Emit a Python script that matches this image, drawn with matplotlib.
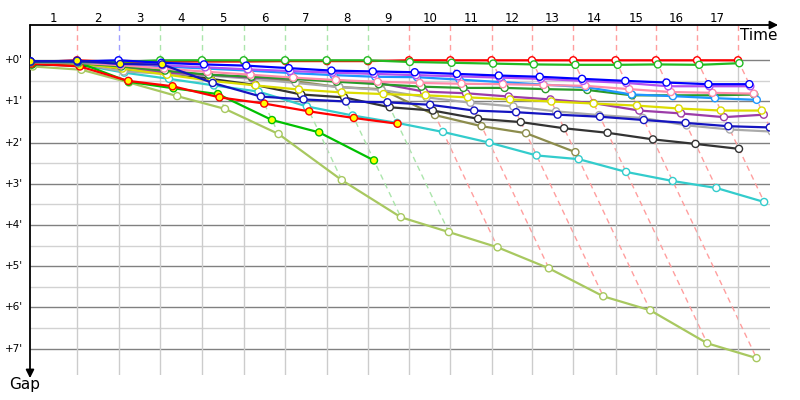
import numpy as np
import matplotlib.pyplot as plt
from matplotlib.colors import to_rgb

# leader lap times (minutes), lap 1 .. 17
lap_times = [2.41, 2.13, 2.14, 2.14, 2.14, 2.12, 2.13, 2.10, 2.13,
             2.12, 2.11, 2.07, 2.12, 2.17, 2.07, 2.11, 2.10]
lap_labels = [str(i) for i in range(1, 18)]
gap_labels = ["+%d'" % i for i in range(8)]

# gap to leader (minutes) at the end of each lap, starting with lap 0
red = [0.05, 0.0, 0.04, 0.03, 0.03, 0.03, 0.02, 0.02, 0.02, 0, 0, 0, 0, 0, 0, 0, 0, 0]
green = [0.04, 0.05, 0.04, 0, 0, 0, 0, 0, 0, 0.04, 0.06, 0.08, 0.10, 0.11, 0.11, 0.10, 0.11, 0.07]
blue = [0.02, 0.03, 0, 0.06, 0.10, 0.13, 0.19, 0.25, 0.27, 0.29, 0.33, 0.37, 0.40, 0.45, 0.50, 0.54, 0.58, 0.58]
navy = [0.03, 0.01, 0.09, 0.10, 0.55, 0.88, 0.95, 1.00, 1.02, 1.08, 1.22, 1.26, 1.32, 1.37, 1.45, 1.52, 1.60, 1.63]
violet = [0.04, 0.05, 0.08, 0.12, 0.17, 0.22, 0.26, 0.30, 0.33, 0.36, 0.39, 0.42, 0.45, 0.50, 0.55, 0.63, 0.63, 0.63]
pink = [0.05, 0.06, 0.12, 0.20, 0.28, 0.35, 0.42, 0.48, 0.52, 0.55, 0.57, 0.58, 0.60, 0.62, 0.70, 0.77, 0.79, 0.81]
sky = [0.03, 0.04, 0.08, 0.15, 0.20, 0.25, 0.31, 0.36, 0.40, 0.41, 0.47, 0.53, 0.59, 0.65, 0.83, 0.87, 0.92, 0.96]
green_mid = [0.05, 0.07, 0.15, 0.25, 0.35, 0.40, 0.45, 0.52, 0.58, 0.64, 0.67, 0.67, 0.70, 0.72, 0.85, 0.85, 0.85, 0.83]
yellow = [0.06, 0.08, 0.20, 0.35, 0.50, 0.61, 0.71, 0.78, 0.82, 0.85, 0.90, 0.95, 1.00, 1.05, 1.10, 1.17, 1.22, 1.22]
purple = [0.06, 0.07, 0.18, 0.30, 0.35, 0.42, 0.45, 0.49, 0.55, 0.76, 0.80, 0.88, 0.95, 1.04, 1.22, 1.29, 1.38, 1.32]
gray = [0.05, 0.08, 0.27, 0.33, 0.37, 0.45, 0.55, 0.65, 0.72, 0.90, 1.03, 1.12, 1.24, 1.33, 1.40, 1.58, 1.68, 1.73]
olive = [0.06, 0.10, 0.25, 0.30, 0.37, 0.41, 0.51, 0.65, 0.70, 1.33, 1.60, 1.77, 2.23]
black = [0.10, 0.13, 0.20, 0.30, 0.45, 0.60, 0.83, 0.90, 1.14, 1.22, 1.42, 1.50, 1.65, 1.76, 1.92, 2.03, 2.15]
turquoise = [0.07, 0.10, 0.30, 0.45, 0.61, 0.76, 1.12, 1.34, 1.52, 1.74, 2.00, 2.31, 2.40, 2.71, 2.93, 3.10, 3.44]
red2 = [0.08, 0.15, 0.50, 0.63, 0.90, 1.05, 1.24, 1.40, 1.54]
green2 = [0.10, 0.05, 0.52, 0.68, 0.82, 1.45, 1.75, 2.43]
lime = [0.15, 0.23, 0.54, 0.87, 1.18, 1.79, 2.91, 3.81, 4.17, 4.54, 5.05, 5.73, 6.07, 6.87, 7.23]

# laps on which a marker is filled yellow
yellow_navy = [0, 1, 2, 3]
yellow_all = list(range(18))

# drawn in this order, last on top
drivers = [
    (lime, '#a8c860', []),
    (turquoise, '#33cccc', []),
    (olive, '#8c8c4c', []),
    (black, '#333333', []),
    (gray, '#aaaaaa', []),
    (purple, '#9c3ca8', []),
    (yellow, '#dcdc00', []),
    (green2, '#00c000', yellow_all),
    (red2, '#ff0000', yellow_all),
    (green_mid, '#2a9a2a', []),
    (sky, '#1e96ff', []),
    (pink, '#ff8caa', []),
    (violet, '#b450f0', []),
    (red, '#ff0000', []),
    (green, '#22bb22', []),
    (blue, '#0000ff', []),
    (navy, '#1414c0', yellow_navy),
]

leader_t = np.concatenate([[0], np.cumsum(lap_times)])
x_max = 37.95
y_top, y_bot = -0.857, 7.64


def light(c, f=0.62):
    r, g, b = to_rgb(c)
    return (r + (1 - r) * f, g + (1 - g) * f, b + (1 - b) * f)


fig = plt.figure(figsize=(8, 4), dpi=100)
ax = fig.add_axes([30 / 800, 25 / 400, 740 / 800, 350 / 400])
ax.set_xlim(0, x_max)
ax.set_ylim(y_bot, y_top)
ax.axis('off')

# horizontal grid
for i in range(8):
    ax.plot([0, x_max], [i, i], color='#808080', lw=1.0, zorder=1)
    if i < 7:
        ax.plot([0, x_max], [i + 0.5, i + 0.5], color='#d2d2d2', lw=1.0, zorder=1)

# vertical grid + lap lines
for k in range(1, len(leader_t)):
    t = leader_t[k]
    ax.plot([t, t], [0, y_bot], color='#cccccc', lw=1.0, zorder=1)
    on_lap = [d for d in drivers if len(d[0]) > k]
    lead = min(on_lap, key=lambda d: d[0][k])
    maxgap = max(d[0][k] for d in on_lap)
    col = light(lead[1])
    ax.plot([t, t], [y_top, 0], color=col, lw=1.0, ls=(0, (4, 3)), zorder=1)
    ax.plot([t, t + maxgap], [0, maxgap], color=col, lw=1.0, ls=(0, (4, 3)), zorder=1)

# drivers
z = 3
for gaps, col, yl in drivers:
    g = np.array(gaps)
    x = leader_t[:len(g)] + g
    fills = ['#ffff00' if i in yl else 'white' for i in range(len(g))]
    ax.plot(x, g, color=col, lw=1.6, zorder=z)
    ax.scatter(x, g, s=26, facecolors=fills, edgecolors=col, linewidths=1.0, zorder=z + 0.5)
    z += 1

# axes arrows
ax.annotate('', xy=(1.011, 1), xytext=(0, 1), xycoords='axes fraction',
            arrowprops=dict(arrowstyle='-|>', color='black', lw=1.3,
                            mutation_scale=12, shrinkA=0, shrinkB=0))
ax.annotate('', xy=(0, -0.009), xytext=(0, 1), xycoords='axes fraction',
            arrowprops=dict(arrowstyle='-|>', color='black', lw=1.3,
                            mutation_scale=12, shrinkA=0, shrinkB=0))

for k, lab in enumerate(lap_labels):
    ax.text((leader_t[k] + leader_t[k + 1]) / 2, 1.02, lab, transform=ax.get_xaxis_transform(),
            ha='center', va='center', fontsize=8.5)
for i, lab in enumerate(gap_labels):
    ax.text(-0.022, i, lab, transform=ax.get_yaxis_transform(),
            ha='center', va='center', fontsize=7.5)

fig.text(778 / 800, 1 - 35 / 400, 'Time', ha='right', va='center', fontsize=11)
fig.text(25 / 800, 1 - 385 / 400, 'Gap', ha='center', va='center', fontsize=11)

fig.savefig('out.png', dpi=100)
